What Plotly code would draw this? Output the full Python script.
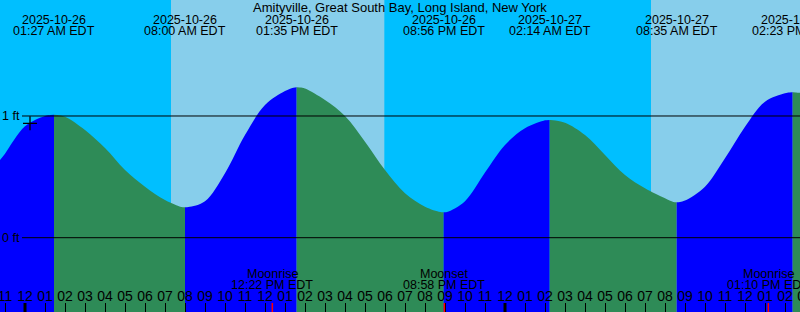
import pandas as pd
import plotly.graph_objects as go

TITLE = "Amityville, Great South Bay, Long Island, New York"

# Tide height samples (ft)
tide_times = [
    "2025-10-25 22:45", "2025-10-25 23:00", "2025-10-26 00:00", "2025-10-26 01:00",
    "2025-10-26 01:17", "2025-10-26 01:27", "2025-10-26 01:37", "2025-10-26 02:00",
    "2025-10-26 03:00", "2025-10-26 04:00", "2025-10-26 05:00", "2025-10-26 06:00",
    "2025-10-26 07:00", "2025-10-26 07:50", "2025-10-26 08:00", "2025-10-26 08:10",
    "2025-10-26 09:00", "2025-10-26 10:00", "2025-10-26 11:00", "2025-10-26 12:00",
    "2025-10-26 13:00", "2025-10-26 13:25", "2025-10-26 13:35", "2025-10-26 13:45",
    "2025-10-26 14:00", "2025-10-26 15:00", "2025-10-26 16:00", "2025-10-26 17:00",
    "2025-10-26 18:00", "2025-10-26 19:00", "2025-10-26 20:00", "2025-10-26 20:46",
    "2025-10-26 20:56", "2025-10-26 21:06", "2025-10-26 22:00", "2025-10-26 23:00",
    "2025-10-27 00:00", "2025-10-27 01:00", "2025-10-27 02:00", "2025-10-27 02:04",
    "2025-10-27 02:14", "2025-10-27 02:24", "2025-10-27 03:00", "2025-10-27 04:00",
    "2025-10-27 05:00", "2025-10-27 06:00", "2025-10-27 07:00", "2025-10-27 08:00",
    "2025-10-27 08:25", "2025-10-27 08:35", "2025-10-27 08:45", "2025-10-27 09:00",
    "2025-10-27 10:00", "2025-10-27 11:00", "2025-10-27 12:00", "2025-10-27 13:00",
    "2025-10-27 14:00", "2025-10-27 14:13", "2025-10-27 14:23", "2025-10-27 14:33",
    "2025-10-27 14:45",
]
tide_ft = [
    0.638, 0.690, 0.915, 1.000,
    1.009, 1.011, 1.009, 0.994,
    0.885, 0.736, 0.556, 0.419,
    0.310, 0.252, 0.250, 0.252,
    0.300, 0.530, 0.844, 1.090,
    1.205, 1.233, 1.236, 1.234,
    1.226, 1.131, 1.000, 0.789,
    0.556, 0.365, 0.255, 0.211,
    0.209, 0.211, 0.300, 0.535,
    0.762, 0.899, 0.964, 0.966,
    0.967, 0.966, 0.945, 0.844,
    0.680, 0.515, 0.406, 0.324,
    0.294, 0.291, 0.293, 0.305,
    0.419, 0.652, 0.912, 1.118,
    1.187, 1.194, 1.195, 1.194,
    1.190,
]

# High / low tide events
extreme_times = [
    "2025-10-26 01:27", "2025-10-26 08:00", "2025-10-26 13:35", "2025-10-26 20:56",
    "2025-10-27 02:14", "2025-10-27 08:35", "2025-10-27 14:23",
]

# Daylight periods
sunrise_times = ["2025-10-26 07:18", "2025-10-27 07:18"]
sunset_times = ["2025-10-26 17:58", "2025-10-27 17:57"]

# Moon events
moon_times = ["2025-10-26 12:22", "2025-10-26 20:58", "2025-10-27 13:10"]
moon_events = ["Moonrise", "Moonset", "Moonrise"]

# Current-time marker
now_times = ["2025-10-26 00:15"]
now_ft = [0.94]

ft_levels = [0, 1]
ft_labels = ["0 ft", "1 ft"]

X_START, X_END = "2025-10-25 22:45", "2025-10-27 14:45"
Y_MIN, Y_MAX = -0.6105, 1.953
W, H = 800, 312
PX_PER_FT = H / (Y_MAX - Y_MIN)

NIGHT = "#00bfff"
DAY = "#87ceeb"
RISING = "#0000ff"
FALLING = "#2e8b57"
FONT = "Liberation Sans, Arial, sans-serif"
NARROW = "Liberation Sans Narrow, Arial Narrow, Liberation Sans, sans-serif"

t = pd.to_datetime(tide_times)
ext = pd.to_datetime(extreme_times)

fig = go.Figure()

# Tide fill segments, split at each high/low
bounds = [t[0]] + list(ext) + [t[-1]]
for a, b in zip(bounds[:-1], bounds[1:]):
    idx = [i for i, tt in enumerate(t) if a <= tt <= b]
    seg_t = [t[i] for i in idx]
    seg_y = [tide_ft[i] for i in idx]
    color = RISING if seg_y[-1] > seg_y[0] else FALLING
    fig.add_trace(go.Scatter(x=[a, b], y=[Y_MIN - 0.3, Y_MIN - 0.3], mode="lines",
                             line=dict(width=0), hoverinfo="skip", showlegend=False))
    fig.add_trace(go.Scatter(x=seg_t, y=seg_y, mode="lines",
                             line=dict(width=0, shape="spline", smoothing=1.0),
                             fill="tonexty", fillcolor=color,
                             hoverinfo="skip", showlegend=False))

# Hour labels
hours = pd.date_range("2025-10-25 23:00", "2025-10-27 15:00", freq="h")
label_y = Y_MIN + (312 - 297.5) / PX_PER_FT
fig.add_trace(go.Scatter(x=list(hours), y=[label_y] * len(hours), mode="text",
                         text=[h.strftime("%I") for h in hours],
                         textposition="middle center",
                         textfont=dict(family=NARROW, size=14, color="black"),
                         hoverinfo="skip", showlegend=False))

# Current time marker
fig.add_trace(go.Scatter(x=pd.to_datetime(now_times), y=now_ft, mode="markers",
                         marker=dict(symbol="cross-thin", size=10,
                                     line=dict(width=1.3, color="black")),
                         hoverinfo="skip", showlegend=False))

shapes = []
for sr, ss in zip(sunrise_times, sunset_times):
    shapes.append(dict(type="rect", xref="x", yref="paper", x0=sr, x1=ss, y0=0, y1=1,
                       fillcolor=DAY, line=dict(width=0), layer="below"))
line_start = pd.Timestamp("2025-10-26 00:00") - pd.Timedelta(minutes=9)
for lv in ft_levels:
    shapes.append(dict(type="line", xref="x", yref="y", x0=line_start, x1=X_END,
                       y0=lv, y1=lv, line=dict(color="black", width=1), layer="above"))
tick_top = Y_MIN + 9 / PX_PER_FT
for d in ["2025-10-26 00:00", "2025-10-27 00:00"]:
    shapes.append(dict(type="line", xref="x", yref="y", x0=d, x1=d, y0=Y_MIN, y1=tick_top,
                       line=dict(color="black", width=3), layer="above"))
for mt in moon_times:
    shapes.append(dict(type="line", xref="x", yref="y", x0=mt, x1=mt, y0=Y_MIN, y1=tick_top,
                       line=dict(color="red", width=1.5), layer="above"))

def py(p):
    return 1 - p / H

annotations = [dict(text=TITLE, xref="paper", yref="paper", x=0.5, y=py(7.5),
                    showarrow=False, xanchor="center", yanchor="middle",
                    font=dict(family=FONT, size=13, color="black"))]
for e in ext:
    for txt, yy in [(e.strftime("%Y-%m-%d"), 19.5), (e.strftime("%I:%M %p EDT"), 31.3)]:
        annotations.append(dict(text=txt, xref="x", yref="paper", x=e, y=py(yy),
                                showarrow=False, xanchor="center", yanchor="middle",
                                font=dict(family=FONT, size=12.5, color="black")))
for mt, me in zip(pd.to_datetime(moon_times), moon_events):
    for txt, yy in [(me, 273.8), (mt.strftime("%I:%M %p EDT"), 285.3)]:
        annotations.append(dict(text=txt, xref="x", yref="paper", x=mt, y=py(yy),
                                showarrow=False, xanchor="center", yanchor="middle",
                                font=dict(family=FONT, size=12.5, color="black")))
for lv, lb in zip(ft_levels, ft_labels):
    annotations.append(dict(text=lb, xref="paper", yref="y", x=21.5 / W, y=lv,
                            showarrow=False, xanchor="right", yanchor="middle",
                            font=dict(family=FONT, size=12.5, color="black")))

fig.update_layout(
    width=W, height=H, margin=dict(l=0, r=0, t=0, b=0),
    plot_bgcolor=NIGHT, paper_bgcolor=NIGHT,
    showlegend=False, shapes=shapes, annotations=annotations,
    xaxis=dict(type="date", range=[X_START, X_END], showgrid=False, zeroline=False,
               showline=False, ticks="inside", ticklen=9, tickwidth=1, tickcolor="black",
               tick0="2025-10-26 00:00", dtick=3600000, showticklabels=False,
               fixedrange=True),
    yaxis=dict(range=[Y_MIN, Y_MAX], showgrid=False, zeroline=False, showline=False,
               showticklabels=False, ticks="", fixedrange=True),
)

fig.write_html("out.html", config={"displayModeBar": False})
